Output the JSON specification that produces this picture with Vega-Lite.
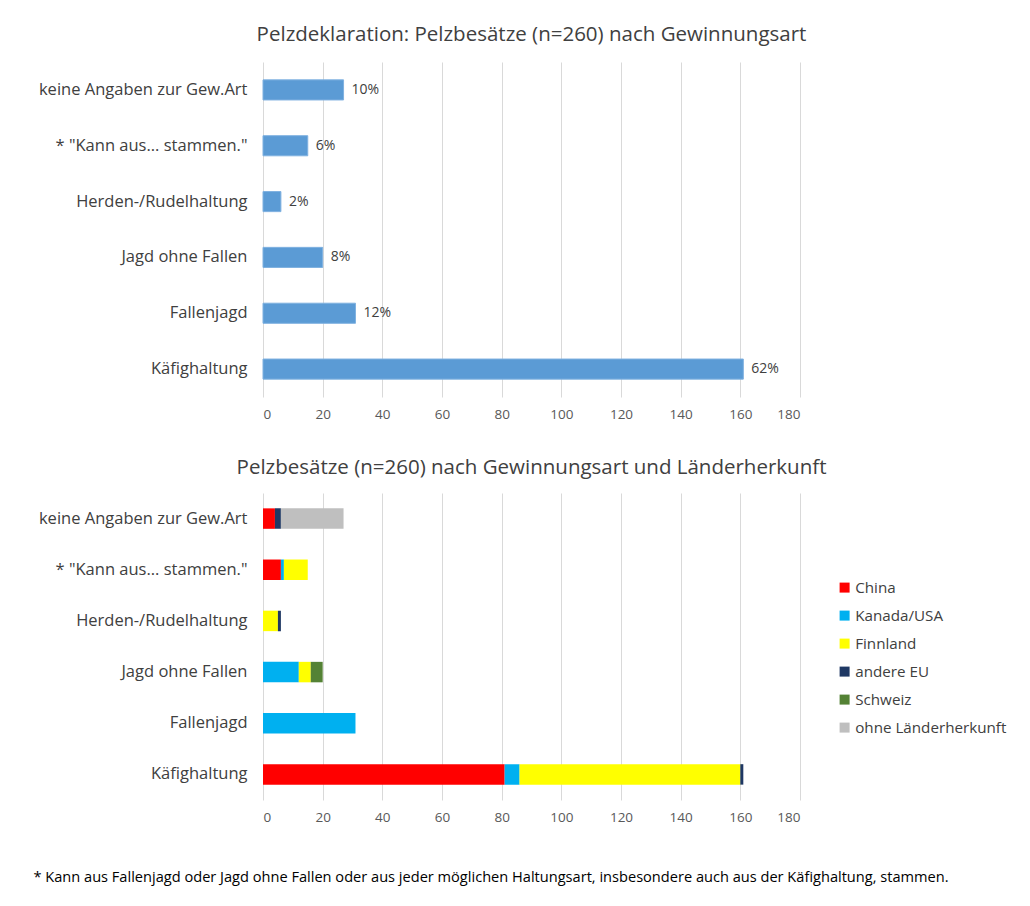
{
  "$schema": "https://vega.github.io/schema/vega-lite/v6.json",
  "background": "white",
  "padding": {"left": 33, "top": 24, "right": 10, "bottom": 10},
  "datasets": {
    "gesamt": [
      {"art": "keine Angaben zur Gew.Art", "n": 27, "pct": "10%"},
      {"art": "* \"Kann aus... stammen.\"", "n": 15, "pct": "6%"},
      {"art": "Herden-/Rudelhaltung", "n": 6, "pct": "2%"},
      {"art": "Jagd ohne Fallen", "n": 20, "pct": "8%"},
      {"art": "Fallenjagd", "n": 31, "pct": "12%"},
      {"art": "Käfighaltung", "n": 161, "pct": "62%"}
    ],
    "laender": [
      {"art": "keine Angaben zur Gew.Art", "land": "China", "k": 1, "n": 4},
      {"art": "keine Angaben zur Gew.Art", "land": "andere EU", "k": 4, "n": 2},
      {"art": "keine Angaben zur Gew.Art", "land": "ohne Länderherkunft", "k": 6, "n": 21},
      {"art": "* \"Kann aus... stammen.\"", "land": "China", "k": 1, "n": 6},
      {"art": "* \"Kann aus... stammen.\"", "land": "Kanada/USA", "k": 2, "n": 1},
      {"art": "* \"Kann aus... stammen.\"", "land": "Finnland", "k": 3, "n": 8},
      {"art": "Herden-/Rudelhaltung", "land": "Finnland", "k": 3, "n": 5},
      {"art": "Herden-/Rudelhaltung", "land": "andere EU", "k": 4, "n": 1},
      {"art": "Jagd ohne Fallen", "land": "Kanada/USA", "k": 2, "n": 12},
      {"art": "Jagd ohne Fallen", "land": "Finnland", "k": 3, "n": 4},
      {"art": "Jagd ohne Fallen", "land": "Schweiz", "k": 5, "n": 4},
      {"art": "Fallenjagd", "land": "Kanada/USA", "k": 2, "n": 31},
      {"art": "Käfighaltung", "land": "China", "k": 1, "n": 81},
      {"art": "Käfighaltung", "land": "Kanada/USA", "k": 2, "n": 5},
      {"art": "Käfighaltung", "land": "Finnland", "k": 3, "n": 74},
      {"art": "Käfighaltung", "land": "andere EU", "k": 4, "n": 1}
    ]
  },
  "title": {
    "text": "* Kann aus Fallenjagd oder Jagd ohne Fallen oder aus jeder möglichen Haltungsart, insbesondere auch aus der Käfighaltung, stammen.",
    "orient": "bottom",
    "anchor": "start",
    "offset": 46,
    "dx": -5,
    "fontSize": 14.6,
    "fontWeight": "normal",
    "color": "#000000"
  },
  "spacing": 36,
  "vconcat": [
    {
      "title": {"text": "Pelzdeklaration: Pelzbesätze (n=260) nach Gewinnungsart", "offset": 17},
      "data": {"name": "gesamt"},
      "width": 537,
      "height": 335,
      "encoding": {
        "y": {"field": "art", "type": "nominal", "sort": null, "title": null,
              "scale": {"paddingInner": 0.64, "paddingOuter": 0.32}},
        "x": {"field": "n", "type": "quantitative", "title": null,
              "scale": {"domain": [0, 180]}, "axis": {"values": [0, 20, 40, 60, 80, 100, 120, 140, 160, 180]}}
      },
      "layer": [
        {"mark": {"type": "bar", "color": "#5b9bd5", "stroke": "#7fb1e0", "strokeWidth": 1}},
        {"mark": {"type": "text", "align": "left", "dx": 8, "fontSize": 14, "color": "#404040", "font": "Open Sans"},
         "encoding": {"text": {"field": "pct"}}}
      ]
    },
    {
      "title": {"text": "Pelzbesätze (n=260) nach Gewinnungsart und Länderherkunft", "offset": 15},
      "data": {"name": "laender"},
      "width": 537,
      "height": 307,
      "mark": {"type": "bar"},
      "encoding": {
        "y": {"field": "art", "type": "nominal", "title": null,
              "sort": ["keine Angaben zur Gew.Art", "* \"Kann aus... stammen.\"", "Herden-/Rudelhaltung", "Jagd ohne Fallen", "Fallenjagd", "Käfighaltung"],
              "scale": {"paddingInner": 0.6, "paddingOuter": 0.3}},
        "x": {"field": "n", "type": "quantitative", "title": null, "stack": "zero",
              "scale": {"domain": [0, 180]}, "axis": {"values": [0, 20, 40, 60, 80, 100, 120, 140, 160, 180]}},
        "order": {"field": "k", "type": "quantitative"},
        "color": {"field": "land", "type": "nominal", "title": null,
                  "scale": {"domain": ["China", "Kanada/USA", "Finnland", "andere EU", "Schweiz", "ohne Länderherkunft"],
                            "range": ["#ff0000", "#00b0f0", "#ffff00", "#1f3864", "#548235", "#bfbfbf"]},
                  "legend": {"orient": "none", "legendX": 574, "legendY": 518, "symbolType": "square",
                             "symbolSize": 100, "symbolStrokeWidth": 0, "labelFontSize": 15.2, "rowPadding": 12,
                             "labelColor": "#404040", "labelFont": "Open Sans", "labelOffset": 3}}
      }
    }
  ],
  "config": {
    "font": "Open Sans",
    "view": {"stroke": null},
    "title": {"fontSize": 20.5, "fontWeight": "normal", "color": "#404040", "font": "Open Sans"},
    "axisY": {"domain": false, "ticks": false, "grid": false, "labelFontSize": 16.5, "labelColor": "#404040",
              "labelPadding": 16, "labelFont": "Open Sans", "labelLimit": 300},
    "axisX": {"domain": false, "ticks": false, "grid": true, "gridColor": "#d9d9d9", "labelFontSize": 13.5,
              "labelColor": "#595959", "labelPadding": 10, "labelFont": "Open Sans"}
  }
}
